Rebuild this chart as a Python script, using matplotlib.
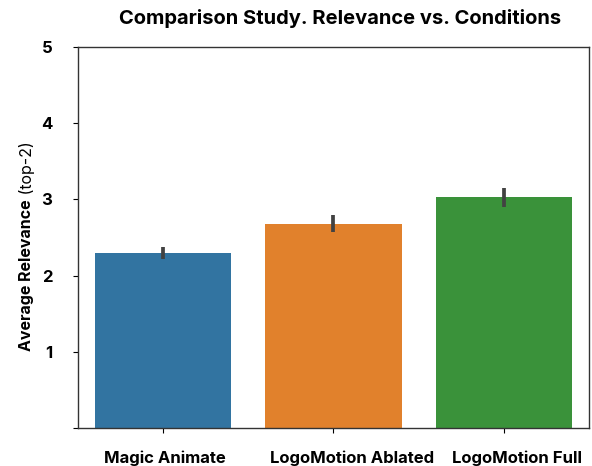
import matplotlib
matplotlib.use("Agg")
import matplotlib.pyplot as plt
import matplotlib.transforms as mtransforms

conditions = ["Magic Animate", "LogoMotion Ablated", "LogoMotion Full"]
means = [2.30, 2.68, 3.03]
ci_low = [2.22, 2.57, 2.90]
ci_high = [2.37, 2.80, 3.15]
colors = ["#3274a1", "#e1812c", "#3a923a"]
yticks = [0, 1, 2, 3, 4, 5]
ytick_labels = ["", "1", "2", "3", "4", "5"]
label_shift_px = [2, 19, 13]

plt.rcParams["font.family"] = ["Inter", "DejaVu Sans"]

fig = plt.figure(figsize=(5.92, 4.66), dpi=100)
ax = fig.add_axes([78 / 592, 1 - 428 / 466, (589 - 78) / 592, (428 - 47) / 466])

x = list(range(len(conditions)))
ax.bar(x, means, width=0.8, color=colors, edgecolor="none")
ax.vlines(x, ci_low, ci_high, color="#424242", linewidth=2.7)

ax.set_xlim(-0.5, 2.5)
ax.set_ylim(0, 5)
ax.set_yticks(yticks)
ax.set_yticklabels(ytick_labels, fontsize=12, fontweight="bold")
ax.set_xticks(x)
ax.set_xticklabels(conditions, fontsize=12, fontweight="bold")
ax.tick_params(axis="x", pad=13)
ax.tick_params(axis="y", pad=15)

for lbl, dx in zip(ax.get_xticklabels(), label_shift_px):
    lbl.set_transform(lbl.get_transform() +
                      mtransforms.ScaledTranslation(dx / 100, 0, fig.dpi_scale_trans))

for s in ax.spines.values():
    s.set_color("#333333")
    s.set_linewidth(1.0)

fig.text(340 / 592, 1 - 19 / 466, "Comparison Study. Relevance vs. Conditions",
         fontsize=14.5, fontweight="bold", ha="center", va="center")

lab = fig.text(27 / 592, 1 - 351 / 466, "Average Relevance", rotation=90,
               fontsize=11.5, fontweight="bold", ha="center", va="bottom")
ax.annotate(" (top-2)", xy=(0.5, 1.0), xycoords=lab, rotation=90,
            fontsize=11.5, ha="center", va="bottom", annotation_clip=False)

fig.savefig("out.png", dpi=100)
